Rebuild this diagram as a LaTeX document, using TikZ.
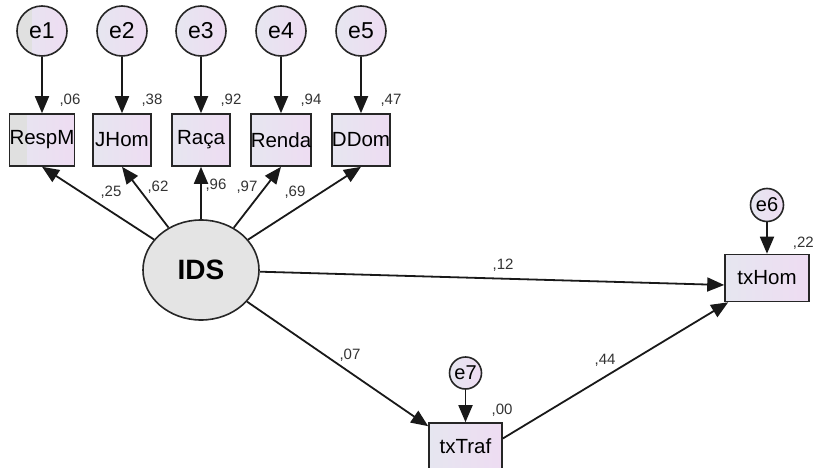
\documentclass[tikz,border=0pt]{standalone}
\usepackage{fontspec}
\setmainfont{Liberation Sans}
\usetikzlibrary{arrows.meta,shapes.geometric}
\definecolor{fillL}{HTML}{E6E6F0}
\definecolor{fillR}{HTML}{EEDCF2}
\definecolor{idsfill}{HTML}{E4E4E4}
\begin{document}
\begin{tikzpicture}[x=1pt,y=-1pt,
  box/.style={draw=black!85, line width=1.6pt, rectangle, left color=fillL, right color=fillR,
    minimum width=58pt, minimum height=52pt, inner sep=0pt, font=\fontsize{20.5}{20.5}\selectfont},
  err/.style={draw=black!85, line width=1.6pt, circle, left color=fillL, right color=fillR,
    minimum size=50pt, inner sep=0pt, font=\fontsize{23}{23}\selectfont},
  serr/.style={err, minimum size=33pt, font=\fontsize{20}{20}\selectfont},
  graypatch/.style={path picture={\fill[black!12] (path picture bounding box.south west) rectangle ([xshift=#1]path picture bounding box.north west);}},
  arr/.style={line width=1.8pt, draw=black!90, -{Triangle[length=17pt,width=14pt]}},
  num/.style={font=\fontsize{15}{15}\selectfont, text=black!80, inner sep=0pt}]
\useasboundingbox (0,0) rectangle (816,468);
\fill[white] (0,0) rectangle (816,468);

% indicator boxes
\node[box, graypatch=17pt] (RespM) at (42,140) {RespM};
\node[box] (JHom)  at (122,140) {JHom};
\node[box] (Raca)  at (201,140) {Raça};
\node[box] (Renda) at (281,140) {Renda};
\node[box] (DDom)  at (361,140) {DDom};

% error terms
\node[err, graypatch=15pt] (e1) at (42,31) {e1};
\node[err] (e2) at (122,31) {e2};
\node[err] (e3) at (201,31) {e3};
\node[err] (e4) at (281,31) {e4};
\node[err] (e5) at (361,31) {e5};

% latent
\node[ellipse, draw=black!85, line width=1.6pt, fill=idsfill, minimum width=116pt,
  minimum height=100pt, inner sep=0pt, font=\bfseries\fontsize{28}{28}\selectfont] (IDS) at (201,270) {IDS};

% outcomes
\node[box, minimum width=84pt, minimum height=47pt] (txHom) at (767,278) {txHom};
\node[box, minimum width=73pt, minimum height=47pt] (txTraf) at (465.5,446.5) {txTraf};
\node[serr] (e6) at (767,205) {e6};
\node[serr, minimum size=32pt] (e7) at (465.5,373) {e7};

% labels
\node[num] at (70,100) {,06};
\node[num] at (152,100) {,38};
\node[num] at (231,100) {,92};
\node[num] at (311,100) {,94};
\node[num] at (391,100) {,47};
\node[num] at (111,192) {,25};
\node[num] at (158,187) {,62};
\node[num] at (216,185) {,96};
\node[num] at (247,187) {,97};
\node[num] at (295,192) {,69};
\node[num] at (503,265) {,12};
\node[num] at (350,355) {,07};
\node[num] at (605,360) {,44};
\node[num] at (502,410) {,00};
\node[num, anchor=east] at (814,243) {,22};

% error arrows
\draw[arr] (e1) -- (RespM);
\draw[arr] (e2) -- (JHom);
\draw[arr] (e3) -- (Raca);
\draw[arr] (e4) -- (Renda);
\draw[arr] (e5) -- (DDom);
\draw[arr] (e6) -- (txHom);
\draw[arr] (e7) -- (txTraf);

% loadings
\draw[arr] (IDS) -- (RespM.south);
\draw[arr] (IDS) -- (JHom.south);
\draw[arr] (IDS) -- (Raca.south);
\draw[arr] (IDS) -- (Renda.south);
\draw[arr] (IDS) -- (DDom.south);

% structural paths
\draw[arr] (IDS) -- ([yshift=-7pt]txHom.west);
\draw[arr] (IDS) -- ([yshift=-4pt]txTraf.north west);
\draw[arr] ([yshift=8pt]txTraf.east) -- ([xshift=4pt]txHom.south west);
\end{tikzpicture}
\end{document}
